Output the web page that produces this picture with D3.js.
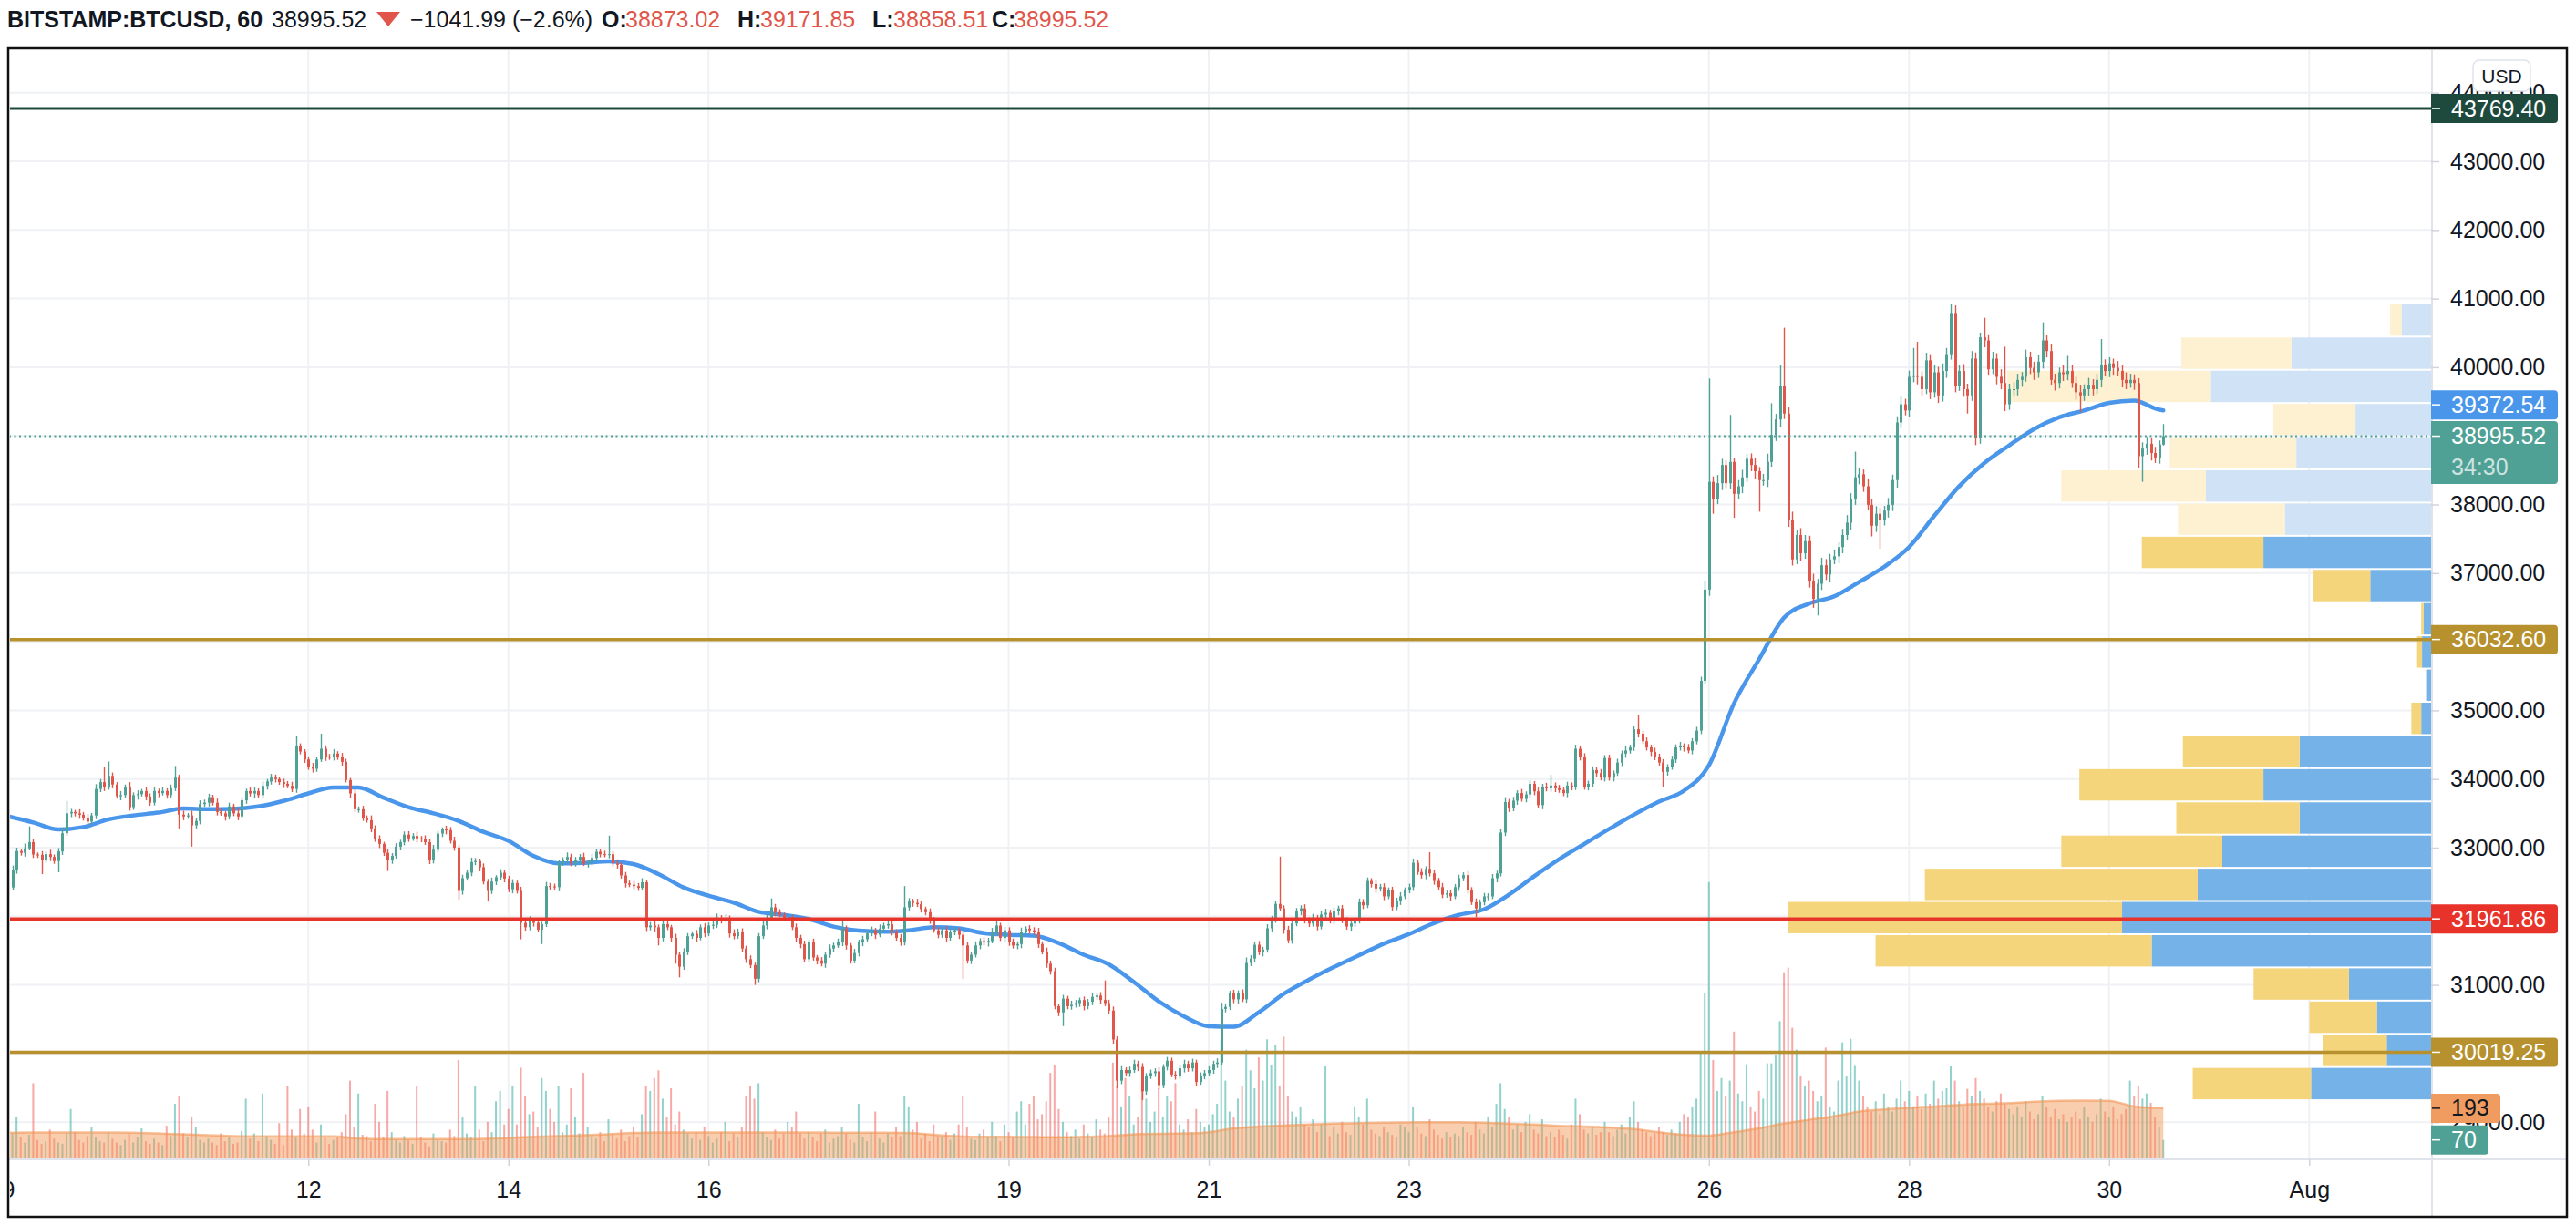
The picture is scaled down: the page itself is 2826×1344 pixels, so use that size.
<!DOCTYPE html>
<html><head><meta charset="utf-8"><title>BITSTAMP:BTCUSD, 60</title>
<script src="https://cdn.jsdelivr.net/npm/d3@7"></script>
<style>html,body{margin:0;padding:0;background:#fff}svg{display:block}text{font-family:"Liberation Sans",Arial,Helvetica,sans-serif}</style>
</head><body><svg id="chart" width="2826" height="1344"></svg>
<script>
// ---------------- DATA ----------------
const symbol = "BITSTAMP:BTCUSD, 60";
const startTime = Date.UTC(2021, 6, 9, 0);   // first hourly candle
const endTime = Date.UTC(2021, 7, 1, 0);     // right end of visible time range
const firstOpen = 32900;
const prevDayClose = 40037.51;

// hourly closes (one row = one day)
const closes = [
32420,32680,32950,32925,32990,33080,32900,32895,32815,32905,32865,32805,32945,33210,33500,33520,33500,33480,33435,33380,33470,33855,33955,33885,
34045,33920,33750,33765,33875,33590,33765,33780,33825,33745,33655,33825,33795,33825,33765,33865,34020,33480,33455,33470,33325,33390,33635,33655,
33735,33655,33520,33500,33455,33600,33500,33455,33690,33825,33790,33825,33765,33900,33965,34020,34000,33955,33930,33900,33855,34475,34400,34285,
34175,34150,34285,34440,34325,34320,34370,34325,34250,33985,33790,33560,33560,33435,33400,33280,33125,33055,32925,32815,32880,33015,33080,33190,
33135,33170,33135,33125,33080,32815,32970,33205,33265,33255,33100,33000,32370,32555,32635,32790,32805,32715,32505,32370,32505,32570,32635,32550,
32395,32485,32370,31905,31840,31930,31905,31805,31885,32440,32435,32425,32770,32825,32865,32770,32815,32865,32770,32780,32850,32940,32905,32895,
32905,32770,32750,32595,32480,32460,32440,32415,32495,31840,31865,31840,31685,31885,31840,31685,31440,31265,31485,31710,31745,31685,31840,31750,
31865,31875,31975,31950,31975,31750,31710,31775,31530,31375,31290,31090,31710,31865,31980,32130,32060,32020,31975,31980,31840,31685,31595,31375,
31620,31400,31355,31310,31440,31530,31575,31620,31820,31575,31355,31465,31620,31665,31750,31795,31730,31820,31865,31885,31775,31685,31620,32130,
32215,32195,32175,32105,32060,31950,31795,31730,31795,31685,31775,31795,31730,31575,31355,31440,31575,31640,31620,31640,31775,31865,31685,31795,
31620,31575,31595,31775,31820,31795,31775,31595,31485,31310,31200,30690,30600,30800,30690,30710,30735,30780,30690,30755,30825,30845,30780,30735,
30625,30205,29605,29760,29715,29760,29850,29805,29450,29675,29715,29740,29540,29805,29895,29695,29675,29785,29850,29785,29870,29585,29675,29715,
29760,29850,29870,30650,30680,30875,30790,30875,30790,31320,31385,31585,31475,31515,31825,31960,32180,32115,31805,31650,31895,32070,32115,31940,
31895,31980,31850,32025,32050,31940,32070,32115,31940,31850,31895,31940,32205,32160,32515,32470,32405,32425,32290,32380,32135,32225,32290,32380,
32425,32780,32645,32600,32690,32625,32515,32425,32315,32335,32290,32425,32555,32600,32380,32205,32115,32205,32290,32290,32555,32625,33220,33665,
33575,33685,33795,33710,33775,33930,33820,33620,33885,33865,33905,33865,33840,33795,33905,33885,34440,34325,33885,33930,34130,34085,34020,34305,
34020,34085,34240,34370,34415,34460,34725,34660,34550,34460,34395,34325,34240,34105,34175,34285,34460,34480,34460,34415,34550,34705,35430,36760,
38330,38085,38310,38575,38310,38620,38155,38265,38395,38665,38575,38485,38355,38355,38620,39015,39240,39725,39325,37775,37200,37555,37290,37465,
36890,36625,36845,37115,36980,37200,37245,37380,37555,37735,38085,38395,38440,38265,37995,37690,37865,37775,37910,37995,38355,39195,39460,39370,
39860,39880,39860,39680,40100,39635,39925,39590,39945,40190,40790,39725,39945,39680,39590,40125,38975,40435,40390,39970,40125,39860,39770,39460,
39680,39680,39815,39860,40145,39990,39925,40080,40390,40235,39815,39770,39925,39900,39945,39770,39635,39590,39680,39745,39680,39815,40035,39945,
40055,39990,39945,39815,39770,39815,39770,38705,38815,38885,38750,38685,38873.02,38995.52
];
// upper wick: high above max(open, close)
const wickUp = [
40,60,50,35,70,230,45,30,55,40,65,35,50,80,180,45,30,60,40,55,35,70,45,220,
210,50,35,60,45,80,40,55,30,65,45,50,35,60,40,55,170,45,60,35,70,40,55,45,
50,35,60,45,30,55,40,70,45,35,60,50,40,65,35,55,45,30,50,40,60,155,45,35,
45,60,35,220,50,40,65,35,55,45,30,60,40,50,35,70,45,55,30,60,40,50,35,45,
50,40,60,35,55,45,70,40,30,55,45,60,35,50,40,65,45,35,55,40,60,30,50,45,
40,55,35,60,45,70,40,50,35,60,45,40,55,35,65,45,50,40,60,35,55,45,40,50,
270,45,60,35,50,40,55,45,60,35,50,70,40,45,55,35,60,40,50,45,35,55,40,60,
45,50,65,40,55,35,60,45,50,40,55,35,45,60,40,130,50,45,35,60,40,55,45,50,
40,55,35,50,45,60,40,55,110,45,35,60,40,50,45,55,35,60,40,50,45,35,55,310,
50,40,60,45,35,55,40,50,45,60,35,50,40,55,45,35,60,40,50,45,55,65,40,50,
45,55,40,60,35,50,45,55,40,60,45,50,35,55,40,60,45,35,50,40,55,45,50,285,
50,60,45,55,40,50,60,45,55,40,50,45,60,40,55,45,50,40,60,45,55,40,50,45,
55,45,60,90,50,40,55,45,60,80,50,45,55,40,60,45,50,690,45,55,40,50,45,60,
45,55,40,50,60,45,55,40,50,45,60,40,55,45,50,40,60,45,55,40,50,45,60,40,
50,60,45,55,40,245,50,45,60,40,55,45,50,40,60,45,55,40,50,45,60,40,55,70,
45,55,40,60,45,50,40,55,45,60,155,45,50,40,55,45,60,40,50,45,55,40,60,45,
50,40,55,45,60,40,50,200,45,55,40,60,45,50,40,55,45,60,40,50,45,55,60,130,
1505,80,120,90,70,685,60,90,110,70,80,100,60,90,120,460,80,310,850,90,120,80,100,90,
80,100,70,110,90,80,100,70,90,110,80,375,90,70,100,80,110,90,70,100,80,90,110,80,
90,400,490,80,110,90,100,80,110,90,130,110,90,100,80,110,90,70,285,90,100,80,110,530,
80,100,90,70,110,80,90,100,265,80,110,90,70,100,220,80,90,110,70,100,80,90,375,80,
90,70,100,80,110,90,80,70,90,100,80,90,60,176.33
];
// lower wick: low below min(open, close)
const wickDn = [
45,35,60,40,55,30,50,45,200,35,60,40,165,50,35,55,45,60,40,50,35,55,45,60,
40,55,35,60,45,50,40,65,35,55,45,40,60,35,50,45,40,200,55,35,310,45,50,40,
55,40,50,35,60,45,40,55,35,50,45,60,40,35,55,45,50,40,60,35,45,55,40,50,
40,55,45,35,60,40,50,45,55,35,60,40,50,45,35,55,40,60,45,155,50,40,55,45,
50,35,60,45,40,55,45,35,50,60,40,45,130,55,35,50,45,60,40,155,45,50,35,55,
45,60,40,240,50,45,55,35,210,40,55,45,60,35,50,40,45,55,35,60,40,50,45,35,
50,40,55,45,60,35,50,45,40,55,45,60,110,50,40,55,130,155,45,50,40,60,35,55,
40,50,45,55,35,60,45,40,50,55,45,90,50,40,55,45,60,35,50,45,40,55,60,45,
50,45,55,40,60,45,50,35,55,60,45,40,50,55,45,40,60,35,50,45,55,40,50,45,
45,55,40,50,45,60,35,50,45,55,40,50,60,490,45,50,40,55,45,60,35,50,45,55,
50,45,55,60,40,50,45,55,40,60,50,45,55,200,45,50,40,55,60,45,50,40,55,45,
55,60,110,50,45,55,40,60,130,50,45,55,60,45,50,40,55,45,60,50,45,55,40,50,
45,55,60,40,50,45,55,60,40,50,45,55,40,60,45,50,55,40,60,45,50,40,55,45,
50,45,55,40,60,45,50,55,40,45,60,50,45,55,40,50,60,45,55,40,50,45,60,40,
45,55,40,50,60,45,55,40,50,45,60,40,55,45,50,40,130,50,45,55,40,60,45,50,
55,45,60,40,50,45,55,40,60,45,50,55,40,45,60,50,45,55,40,50,45,60,40,55,
45,55,40,50,60,45,50,55,40,45,60,50,45,220,55,40,50,45,60,40,55,45,50,40,
90,220,80,100,70,90,350,80,100,70,90,110,460,80,100,70,90,110,80,100,90,70,110,80,
100,130,243,90,80,110,70,100,90,80,110,90,100,80,70,155,90,420,80,100,90,110,80,70,
100,80,110,90,70,100,80,110,90,100,80,90,70,110,265,80,110,90,100,80,70,110,90,100,
80,110,90,100,70,90,110,80,100,90,70,110,80,100,90,70,110,245,80,100,90,70,110,80,
90,100,80,110,90,70,100,175,375,90,110,80,90,14.51
];
// hourly volume (BTC)
const volumes = [
140,95,160,80,60,90,290,70,55,65,110,75,60,55,95,190,100,70,60,85,120,80,65,60,
100,75,60,50,70,95,60,80,115,65,55,75,60,50,125,85,210,240,95,80,160,120,70,60,
75,60,50,95,65,80,55,60,105,230,75,95,65,250,85,70,55,135,50,280,110,80,190,95,
200,110,60,130,80,55,70,80,100,170,300,120,250,90,85,65,210,140,80,260,100,70,60,85,
70,55,280,80,60,45,95,70,65,60,110,85,380,160,95,80,280,110,65,140,100,220,260,130,
190,280,130,350,240,170,180,120,310,260,190,140,280,100,130,270,160,95,330,120,85,75,100,65,
150,95,75,110,65,85,120,80,170,280,260,310,340,230,160,270,130,180,110,95,75,100,70,120,
85,60,75,100,140,65,95,80,120,240,280,230,290,100,80,70,110,75,95,140,120,180,95,75,
100,80,65,95,110,60,75,85,120,95,70,60,210,80,65,100,180,75,60,95,80,120,85,240,
200,110,140,75,95,65,130,85,80,100,70,95,130,240,120,75,70,95,110,80,140,85,65,130,
100,80,180,220,130,210,240,150,170,220,330,360,190,140,100,85,110,75,130,95,80,150,110,95,
160,370,280,200,310,240,130,160,280,230,140,180,270,160,240,220,290,130,110,150,100,190,140,120,
130,170,210,460,300,180,160,230,280,420,340,270,390,300,460,360,440,280,470,240,180,160,200,130,
120,150,100,130,355,85,120,95,140,100,90,200,160,130,230,110,95,85,120,100,90,80,130,120,
100,200,120,95,85,150,110,90,75,100,80,95,85,120,100,90,140,110,95,160,120,210,290,190,
160,110,130,100,140,170,110,95,150,85,100,80,110,90,75,130,230,170,110,95,120,90,100,140,
100,85,110,130,95,160,220,140,110,100,85,95,120,100,90,110,95,140,170,160,200,230,410,640,
1070,380,260,310,240,300,490,250,220,363,200,180,260,230,367,367,400,530,720,738,505,420,320,280,
300,260,220,240,428,200,180,300,448,320,462,357,300,240,200,180,220,170,250,200,180,230,300,220,
260,200,240,190,250,210,300,230,260,270,355,300,220,200,268,240,310,260,230,200,180,220,250,210,
190,170,200,160,220,180,150,170,240,200,160,190,150,170,140,160,180,150,200,160,140,170,230,180,
160,200,150,170,190,300,240,280,230,250,214,160,120,70
];
// moving average of price, read every 6 hours, plus last value
const maEvery6h = [
33456,33367,33265,33300,33411,33470,33510,33570,33560,33565,33600,33680,33790,33876,33876,33730,33590,33500,33390,33230,33100,32880,32770,32779,
32800,32760,32615,32420,32300,32200,32065,32020,31960,31850,31790,31775,31796,31840,31825,31755,31730,31717,31610,31440,31300,31044,30760,30544,
30398,30390,30600,30870,31075,31260,31430,31600,31740,31900,32020,32100,32314,32580,32830,33050,33270,33480,33670,33830,34200,35100,35740,36350,
36555,36660,36870,37090,37379,37830,38264,38600,38860,39100,39270,39370,39480,39515,39380
];
const maLast = 39372.54;
// moving average of volume, read every 6 hours, plus last value
const volMaEvery6h = [
98,99,99,99,99,98,95,92,88,85,84,84,84,84,76,73,73,73,73,74,78,82,85,88,
92,97,99,99,99,99,99,99,99,98,98,98,97,90,84,82,82,81,80,82,85,92,94,95,
100,115,122,126,130,133,135,137,138,139,139,137,133,130,125,122,118,112,100,90,87,100,115,134,
148,162,180,188,195,200,206,210,213,218,222,223,222,200,194
];
const volMaLast = 193;

// visible range volume profile (24 rows, top row first)
const profileTop = 40930, profileBottom = 29320;
const profileUp   = [540,2550,4020,1380,2460,4110,2670,3060,1110,135,165,90,180,2400,3060,2400,3810,4260,5640,5100,1500,990,810,2190];
const profileDown = [210,2010,3720,1500,2310,2640,1950,2220,1050,45,90,0,180,2130,3360,2250,2940,4980,6090,5040,1740,1230,1170,2160];
const valueAreaFirstRow = 7;

// horizontal levels
const levelPrices = [43769.40, 36032.60, 31961.86, 30019.25];
const levelColors = ["#1e4a3d", "#b8912f", "#e8332a", "#b8912f"];
const countdown = "34:30";

// axes
const priceTicks = [29000,30000,31000,32000,33000,34000,35000,36000,37000,38000,39000,40000,41000,42000,43000,44000];
const timeTicks = ["2021-07-09","2021-07-12","2021-07-14","2021-07-16","2021-07-19","2021-07-21","2021-07-23","2021-07-26","2021-07-28","2021-07-30","2021-08-01"];
const timeTickLabels = ["9","12","14","16","19","21","23","26","28","30","Aug"];

// ---------------- DRAWING ----------------
const HOUR = 3600000;
const svg = d3.select("#chart");
const PANE = {l: 10, r: 2667, t: 55, b: 1272};
const RIGHT = 2815, BOTTOM = 1334;
const UP = "#26a69a", DOWN = "#ef5350";
const CUP = "#4fa195", CDN = "#e0564b";
const TXT = "#131722";

const x = d3.scaleUtc().domain([new Date(startTime), new Date(endTime)]).range([9, 2533.3]);
const y = d3.scaleLinear().domain([29000, 44000]).range([1231.2, 101.7]);
const vy = d3.scaleLinear().domain([0, 1000]).range([1270.5, 987.5]);

const candles = closes.map((c, i) => {
  const o = i === 0 ? firstOpen : closes[i - 1];
  const h = Math.max(o, c) + (wickUp[i] ?? 50);
  const l = Math.min(o, c) - (wickDn[i] ?? 50);
  return {t: new Date(startTime + i * HOUR), o, h, l, c, v: volumes[i] ?? 100};
});
const last = candles[candles.length - 1];

const defs = svg.append("defs");
defs.append("clipPath").attr("id", "paneClip").append("rect")
  .attr("x", PANE.l + 1).attr("y", PANE.t).attr("width", PANE.r - PANE.l - 1).attr("height", PANE.b - PANE.t);
defs.append("clipPath").attr("id", "timeClip").append("rect")
  .attr("x", 11).attr("y", PANE.b).attr("width", PANE.r - 11).attr("height", BOTTOM - PANE.b);
defs.append("clipPath").attr("id", "priceClip").append("rect")
  .attr("x", PANE.r).attr("y", PANE.t).attr("width", RIGHT - PANE.r).attr("height", PANE.b - PANE.t);

svg.append("rect").attr("width", 2826).attr("height", 1344).attr("fill", "#fff");

const pane = svg.append("g").attr("clip-path", "url(#paneClip)");

// grid
pane.append("g").selectAll("line").data(priceTicks).join("line")
  .attr("x1", PANE.l).attr("x2", PANE.r).attr("y1", d => y(d)).attr("y2", d => y(d))
  .attr("stroke", "#eff1f4").attr("stroke-width", 2);
pane.append("g").selectAll("line").data(timeTicks).join("line")
  .attr("x1", d => x(new Date(d + "T00:00Z"))).attr("x2", d => x(new Date(d + "T00:00Z")))
  .attr("y1", PANE.t).attr("y2", PANE.b).attr("stroke", "#eff1f4").attr("stroke-width", 2);

// volume bars
pane.append("g").selectAll("rect").data(candles).join("rect")
  .attr("x", d => x(d.t) - 1).attr("width", 2)
  .attr("y", d => vy(d.v)).attr("height", d => vy(0) - vy(d.v))
  .attr("fill", d => d.c >= d.o ? UP : DOWN).attr("fill-opacity", 0.5);

// volume moving average
const volMaPts = volMaEvery6h.map((v, k) => ({t: new Date(startTime + k * 6 * HOUR), v}))
  .concat([{t: last.t, v: volMaLast}]);
pane.append("path").datum(volMaPts)
  .attr("d", d3.area().x(d => x(d.t)).y0(vy(0)).y1(d => vy(d.v)).curve(d3.curveMonotoneX))
  .attr("fill", "rgb(242,150,85)").attr("fill-opacity", 0.47);
pane.append("path").datum(volMaPts)
  .attr("d", d3.line().x(d => x(d.t)).y(d => vy(d.v)).curve(d3.curveMonotoneX))
  .attr("fill", "none").attr("stroke", "rgb(242,150,85)").attr("stroke-opacity", 0.6).attr("stroke-width", 2.5);

// volume profile
const rowSize = (profileTop - profileBottom) / profileUp.length;
const maxTot = d3.max(profileUp.map((u, i) => u + profileDown[i]));
const pw = d3.scaleLinear().domain([0, maxTot]).range([0, 705]);
const rows = profileUp.map((u, i) => ({
  top: profileTop - i * rowSize, bot: profileTop - (i + 1) * rowSize,
  up: u, dn: profileDown[i], va: i >= valueAreaFirstRow
}));
const prof = pane.append("g");
prof.selectAll("rect.up").data(rows).join("rect").attr("class", "up")
  .attr("x", d => PANE.r - pw(d.up)).attr("width", d => pw(d.up))
  .attr("y", d => y(d.top) + 1).attr("height", d => y(d.bot) - y(d.top) - 2)
  .attr("fill", d => d.va ? "#6eaee6" : "#cde2f5").attr("fill-opacity", 0.95);
prof.selectAll("rect.dn").data(rows).join("rect").attr("class", "dn")
  .attr("x", d => PANE.r - pw(d.up + d.dn)).attr("width", d => pw(d.dn))
  .attr("y", d => y(d.top) + 1).attr("height", d => y(d.bot) - y(d.top) - 2)
  .attr("fill", d => d.va ? "#f4d374" : "#fdf0cf").attr("fill-opacity", 0.95);

// price moving average
const maPts = maEvery6h.map((v, k) => ({t: new Date(startTime + k * 6 * HOUR), v}))
  .concat([{t: last.t, v: maLast}]);
pane.append("path").datum(maPts)
  .attr("d", d3.line().x(d => x(d.t)).y(d => y(d.v)).curve(d3.curveMonotoneX))
  .attr("fill", "none").attr("stroke", "#4a96eb").attr("stroke-width", 4.5)
  .attr("stroke-linejoin", "round").attr("stroke-linecap", "round");

// candles
const cg = pane.append("g");
cg.selectAll("line").data(candles).join("line")
  .attr("x1", d => Math.round(x(d.t)) + 0.5).attr("x2", d => Math.round(x(d.t)) + 0.5)
  .attr("y1", d => y(d.h)).attr("y2", d => y(d.l))
  .attr("stroke", d => d.c >= d.o ? CUP : CDN).attr("stroke-width", 1.4);
cg.selectAll("rect").data(candles).join("rect")
  .attr("x", d => Math.round(x(d.t)) - 1).attr("width", 3)
  .attr("y", d => y(Math.max(d.o, d.c)))
  .attr("height", d => Math.max(1, Math.abs(y(d.o) - y(d.c))))
  .attr("fill", d => d.c >= d.o ? CUP : CDN);

// horizontal levels
pane.append("g").selectAll("line").data(levelPrices).join("line")
  .attr("x1", PANE.l).attr("x2", PANE.r).attr("y1", d => y(d)).attr("y2", d => y(d))
  .attr("stroke", (d, i) => levelColors[i]).attr("stroke-width", (d, i) => i === 0 ? 3 : 3.5);

// current price dotted line
pane.append("line").attr("x1", PANE.l).attr("x2", PANE.r).attr("y1", y(last.c)).attr("y2", y(last.c))
  .attr("stroke", CUP).attr("stroke-width", 2).attr("stroke-dasharray", "2 3.5");

// separators
svg.append("line").attr("x1", PANE.l).attr("x2", RIGHT).attr("y1", PANE.b).attr("y2", PANE.b)
  .attr("stroke", "#e0e3eb").attr("stroke-width", 2);
svg.append("line").attr("x1", PANE.r + 1).attr("x2", PANE.r + 1).attr("y1", PANE.t).attr("y2", BOTTOM)
  .attr("stroke", "#e0e3eb").attr("stroke-width", 2);

// time axis
const tAxis = svg.append("g").attr("clip-path", "url(#timeClip)")
  .append("g").attr("transform", `translate(0,${PANE.b})`)
  .call(d3.axisBottom(x).tickValues(timeTicks.map(d => new Date(d + "T00:00Z")))
    .tickFormat((d, i) => timeTickLabels[i]).tickSize(7).tickPadding(17));
tAxis.select(".domain").remove();
tAxis.selectAll(".tick line").attr("stroke", "#d1d4dc").attr("stroke-width", 1.5);
tAxis.selectAll(".tick text").attr("fill", TXT).attr("font-size", 25)
  .attr("font-family", '"Liberation Sans", Arial, sans-serif');

// price axis
const pAxis = svg.append("g").attr("clip-path", "url(#priceClip)")
  .append("g").attr("transform", `translate(${PANE.r},0)`)
  .call(d3.axisRight(y).tickValues(priceTicks).tickFormat(d3.format(".2f")).tickSize(9).tickPadding(12));
pAxis.select(".domain").remove();
pAxis.selectAll(".tick line").attr("stroke", "#d1d4dc").attr("stroke-width", 1.5);
pAxis.selectAll(".tick text").attr("fill", TXT).attr("font-size", 25)
  .attr("font-family", '"Liberation Sans", Arial, sans-serif');

// USD badge
svg.append("rect").attr("x", 2713).attr("y", 66).attr("width", 63).attr("height", 34).attr("rx", 7)
  .attr("fill", "#fff").attr("stroke", "#e0e3eb").attr("stroke-width", 1.5);
svg.append("text").attr("x", 2744.5).attr("y", 91).attr("text-anchor", "middle")
  .attr("font-size", 21).attr("fill", TXT).text("USD");

// price labels on the axis
function boxPath(x0, y0, w, h, r) {
  const x1 = x0 + w, y1 = y0 + h;
  return `M${x0},${y0}H${x1 - r}Q${x1},${y0} ${x1},${y0 + r}V${y1 - r}Q${x1},${y1} ${x1 - r},${y1}H${x0}Z`;
}
function axisLabel(yc, bg, txt, fg, w, h, top) {
  const y0 = top !== undefined ? top : yc - h / 2;
  const g = svg.append("g");
  g.append("path").attr("d", boxPath(PANE.r, y0, w, h, 4)).attr("fill", bg);
  g.append("line").attr("x1", PANE.r + 1).attr("x2", PANE.r + 10).attr("y1", yc).attr("y2", yc)
    .attr("stroke", fg).attr("stroke-width", 1.5);
  g.append("text").attr("x", 2689).attr("y", yc + 8.5).attr("font-size", 25).attr("fill", fg).text(txt);
  return g;
}
const fmt = d3.format(".2f");
levelPrices.forEach((p, i) => axisLabel(y(p), levelColors[i], fmt(p), "#fff", 139, 32));
// MA label (pushed up above the last-price label)
axisLabel(y(maLast) - 6, "#4a96eb", fmt(maLast), "#fff", 139, 32);
// last price with countdown
{
  const yc = y(last.c);
  const g = axisLabel(yc, CUP, fmt(last.c), "#fff", 139, 69, yc - 16.5);
  g.append("text").attr("x", 2689).attr("y", yc + 42).attr("font-size", 25)
    .attr("fill", "rgba(255,255,255,0.72)").text(countdown);
}
// volume labels
axisLabel(vy(volMaLast), "#f09b5f", String(volMaLast), "#131722", 76, 32);
axisLabel(vy(last.v), CUP, String(last.v), "#fff", 63, 32);

// frame
svg.append("rect").attr("x", 9).attr("y", 53).attr("width", RIGHT + 1 - 9).attr("height", BOTTOM + 1 - 53)
  .attr("fill", "none").attr("stroke", "#111").attr("stroke-width", 2.5);

// header legend
const hdr = svg.append("g").attr("font-size", 25).attr("fill", TXT);
const baseY = 30;
hdr.append("text").attr("x", 8).attr("y", baseY).attr("font-weight", "bold").attr("font-size", 25).text(symbol);
hdr.append("text").attr("x", 298).attr("y", baseY).text(fmt(last.c));
hdr.append("path").attr("d", "M413,13L439,13L426,29Z").attr("fill", CDN);
const chg = last.c - prevDayClose;
const pct = chg / prevDayClose * 100;
hdr.append("text").attr("x", 450).attr("y", baseY)
  .text(`${chg < 0 ? "\u2212" : "+"}${fmt(Math.abs(chg))} (${pct < 0 ? "\u2212" : "+"}${Math.abs(pct).toFixed(1)}%)`);
const ohlcItems = [
  ["O:", last.o, 660, 686], ["H:", last.h, 809, 834], ["L:", last.l, 957, 980], ["C:", last.c, 1088, 1112]
];
ohlcItems.forEach(([k, v, kx, vx]) => {
  hdr.append("text").attr("x", kx).attr("y", baseY).attr("font-weight", "bold").text(k);
  hdr.append("text").attr("x", vx).attr("y", baseY).attr("fill", CDN).text(fmt(v));
});
</script></body></html>
